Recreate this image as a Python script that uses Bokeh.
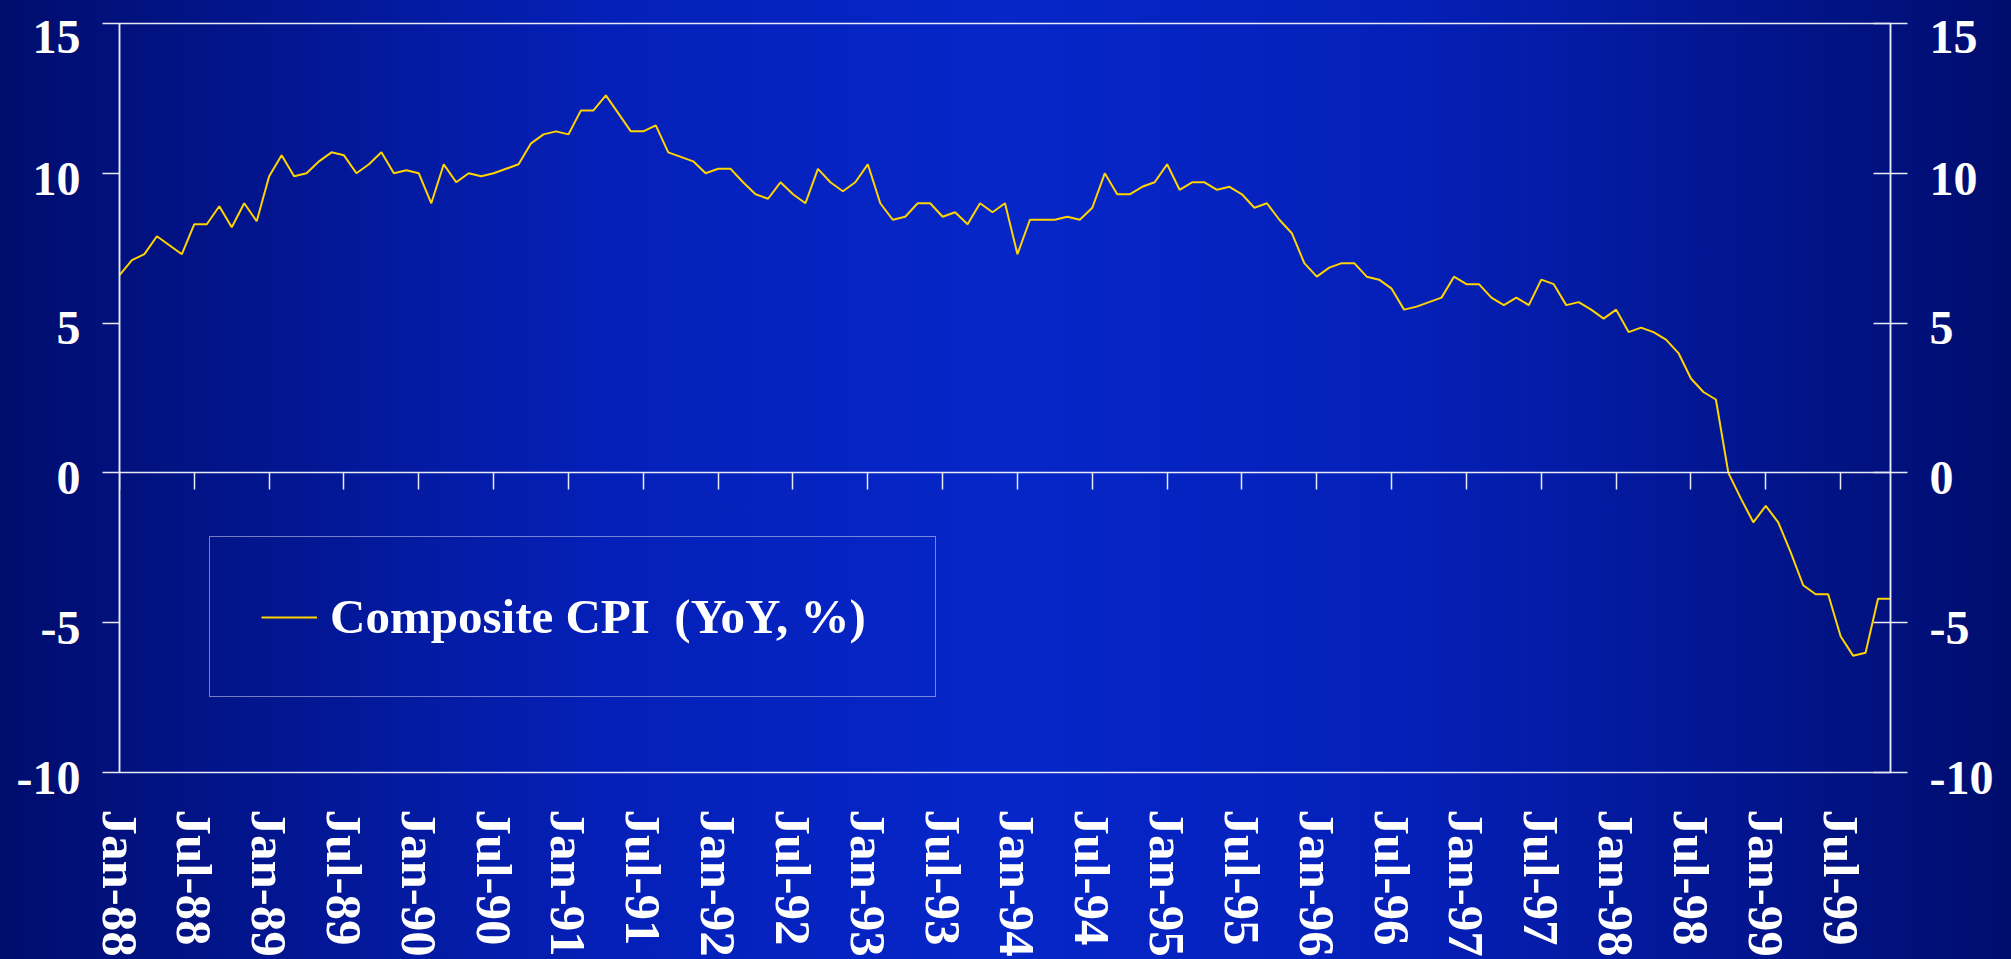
from bokeh.plotting import figure
from bokeh.models import (Range1d, LinearAxis, FixedTicker, Legend, LegendItem,
                          CustomJSTickFormatter)
from bokeh.embed import file_html
from bokeh.resources import INLINE

# ---- data: Composite CPI, YoY %, monthly Jan-1988 .. Nov-1999 ----
cpi_1988 = [6.6, 7.1, 7.3, 7.9, 7.6, 7.3, 8.3, 8.3, 8.9, 8.2, 9.0, 8.4]
cpi_1989 = [9.9, 10.6, 9.9, 10.0, 10.4, 10.7, 10.6, 10.0, 10.3, 10.7, 10.0, 10.1]
cpi_1990 = [10.0, 9.0, 10.3, 9.7, 10.0, 9.9, 10.0, 10.15, 10.3, 11.0, 11.3, 11.4]
cpi_1991 = [11.3, 12.1, 12.1, 12.6, 12.0, 11.4, 11.4, 11.6, 10.7, 10.55, 10.4, 10.0]
cpi_1992 = [10.15, 10.15, 9.7, 9.3, 9.15, 9.7, 9.3, 9.0, 10.15, 9.7, 9.4, 9.7]
cpi_1993 = [10.3, 9.0, 8.45, 8.55, 9.0, 9.0, 8.55, 8.7, 8.3, 9.0, 8.7, 9.0]
cpi_1994 = [7.3, 8.45, 8.45, 8.45, 8.55, 8.45, 8.85, 10.0, 9.3, 9.3, 9.55, 9.7]
cpi_1995 = [10.3, 9.45, 9.7, 9.7, 9.45, 9.55, 9.3, 8.85, 9.0, 8.45, 8.0, 7.0]
cpi_1996 = [6.55, 6.85, 7.0, 7.0, 6.55, 6.45, 6.15, 5.45, 5.55, 5.7, 5.85, 6.55]
cpi_1997 = [6.3, 6.3, 5.85, 5.6, 5.85, 5.6, 6.45, 6.3, 5.6, 5.7, 5.45, 5.15]
cpi_1998 = [5.45, 4.7, 4.85, 4.7, 4.45, 4.0, 3.15, 2.7, 2.45, 0.0, -0.85, -1.65]
cpi_1999 = [-1.1, -1.65, -2.65, -3.75, -4.05, -4.05, -5.45, -6.1, -6.0, -4.2, -4.2]

cpi_yoy = (cpi_1988 + cpi_1989 + cpi_1990 + cpi_1991 + cpi_1992 + cpi_1993 +
           cpi_1994 + cpi_1995 + cpi_1996 + cpi_1997 + cpi_1998 + cpi_1999)
month_index = list(range(len(cpi_yoy)))

x_tick_labels = ["Jan-88", "Jul-88", "Jan-89", "Jul-89", "Jan-90", "Jul-90",
                 "Jan-91", "Jul-91", "Jan-92", "Jul-92", "Jan-93", "Jul-93",
                 "Jan-94", "Jul-94", "Jan-95", "Jul-95", "Jan-96", "Jul-96",
                 "Jan-97", "Jul-97", "Jan-98", "Jul-98", "Jan-99", "Jul-99"]
x_tick_pos = [6 * i for i in range(len(x_tick_labels))]
y_ticks = [-10, -5, 0, 5, 10, 15]
y_tick_labels = ["-10", "-5", "0", "5", "10", "15"]
series_name = "Composite CPI  (YoY, %)"

FONT = "Liberation Serif"
LINE_COL = "#E8EAF6"

p = figure(width=2011, height=959, output_backend="svg", toolbar_location=None,
           x_range=Range1d(0, len(cpi_yoy) - 1), y_range=Range1d(-10, 15),
           min_border_left=119, min_border_right=121, min_border_top=23,
           min_border_bottom=186)
p.styles = {"background": "linear-gradient(to right, #000D6E 0%, #0520B8 30%, #0626C8 50%, #0520B8 70%, #000D6E 100%)"}
p.background_fill_alpha = 0
p.border_fill_alpha = 0
p.outline_line_color = LINE_COL
p.outline_line_width = 1.5
p.grid.visible = False

# x axis: tick marks on the zero line (no labels)
xa = p.xaxis[0]
xa.fixed_location = 0
xa.ticker = FixedTicker(ticks=x_tick_pos)
xa.formatter = CustomJSTickFormatter(code="return ''")
xa.major_tick_out = 17
xa.major_tick_in = 0
xa.minor_tick_line_color = None
xa.axis_line_color = LINE_COL
xa.axis_line_width = 1.5
xa.major_tick_line_color = LINE_COL
xa.major_tick_line_width = 1.5

# bottom label axis (labels only)
xl = LinearAxis(ticker=FixedTicker(ticks=x_tick_pos),
                major_label_overrides={pos: lab for pos, lab in zip(x_tick_pos, x_tick_labels)},
                major_label_orientation="vertical", major_label_standoff=37,
                major_tick_out=0, major_tick_in=0, axis_line_color=None,
                major_tick_line_color=None, minor_tick_line_color=None,
                major_label_text_font=FONT, major_label_text_font_style="bold",
                major_label_text_font_size="51px", major_label_text_color="white")
p.add_layout(xl, "below")

# y axes
ya = p.yaxis[0]
ya.ticker = FixedTicker(ticks=y_ticks)
ya.major_tick_out = 17
ya.major_tick_in = 0
ya.minor_tick_line_color = None

yr = LinearAxis(ticker=FixedTicker(ticks=y_ticks), major_tick_out=17, major_tick_in=17,
                minor_tick_line_color=None)
p.add_layout(yr, "right")

for ax in (ya, yr):
    # leading empty line with a tight line height nudges labels ~5px below the tick
    ax.major_label_overrides = {t: "\n" + lab for t, lab in zip(y_ticks, y_tick_labels)}
    ax.major_label_text_line_height = 0.18
    ax.axis_line_color = LINE_COL
    ax.axis_line_width = 1.5
    ax.major_tick_line_color = LINE_COL
    ax.major_tick_line_width = 1.5
    ax.major_label_standoff = 22
    ax.major_label_text_font = FONT
    ax.major_label_text_font_style = "bold"
    ax.major_label_text_font_size = "48px"
    ax.major_label_text_color = "white"

r = p.line(month_index, cpi_yoy, line_color="#FFD400", line_width=2)

legend = Legend(items=[LegendItem(label=series_name, renderers=[r])],
                location=(90, 75), margin=0, padding=51,
                glyph_width=56, glyph_height=20, label_standoff=13,
                label_height=49, label_width=554,
                label_text_font=FONT, label_text_font_style="bold",
                label_text_font_size="49px", label_text_color="white",
                background_fill_alpha=0, border_line_color=LINE_COL,
                border_line_width=1.5)
p.add_layout(legend)

open("out.html", "w").write(file_html(p, INLINE))
